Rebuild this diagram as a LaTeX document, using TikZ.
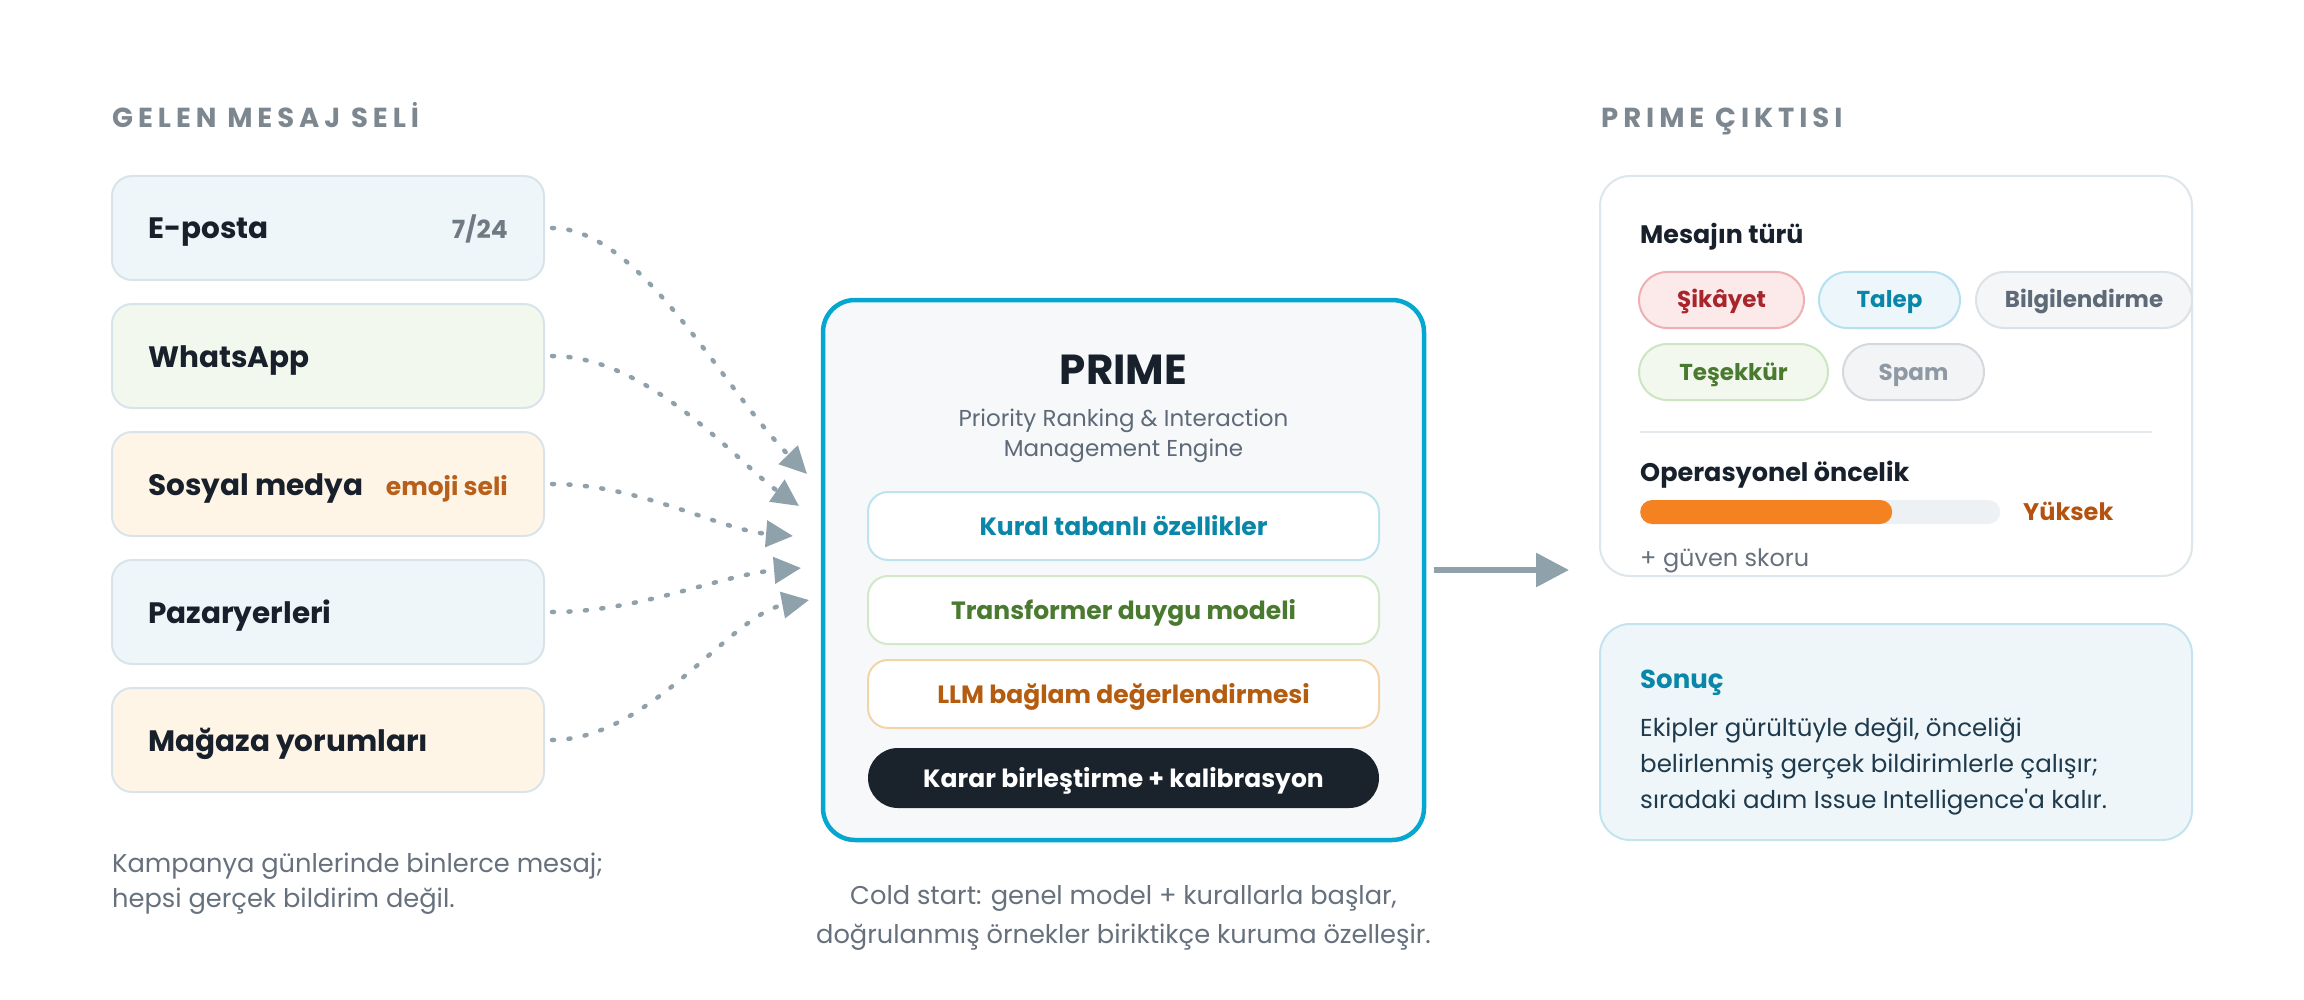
\documentclass[tikz,border=0pt]{standalone}
\usepackage{fontspec}
\setmainfont{Poppins}[Ligatures=TeXOff]
\usetikzlibrary{arrows.meta}
\definecolor{cDark}{HTML}{18212B}
\definecolor{cHead}{HTML}{7D8790}
\definecolor{cBorder}{HTML}{D9E4EA}
\definecolor{cBlueBg}{HTML}{EEF6F9}
\definecolor{cGreenBg}{HTML}{F2F8EE}
\definecolor{cOrangeBg}{HTML}{FFF5E6}
\definecolor{cGrayTxt}{HTML}{6F7A84}
\definecolor{cEmoji}{HTML}{B8601B}
\definecolor{cArrow}{HTML}{8FA1AB}
\definecolor{cPrime}{HTML}{05A6CF}
\definecolor{cPrimeBg}{HTML}{F6F8FA}
\definecolor{cSub}{HTML}{5E6A77}
\definecolor{cTeal}{HTML}{0A87A8}
\definecolor{cTealBd}{HTML}{BDE3EF}
\definecolor{cGreen}{HTML}{4A7A2F}
\definecolor{cGreenBd}{HTML}{D2E8C8}
\definecolor{cOrange}{HTML}{B45D10}
\definecolor{cOrangeBd}{HTML}{F3D4A8}
\definecolor{cBlack}{HTML}{1A222C}
\definecolor{cOutBd}{HTML}{DCE6EB}
\definecolor{cRedBg}{HTML}{FCE9EA}
\definecolor{cRedBd}{HTML}{EEB0B3}
\definecolor{cRed}{HTML}{A8262B}
\definecolor{cTalepBg}{HTML}{EDF6FA}
\definecolor{cTalepBd}{HTML}{B4E0EF}
\definecolor{cInfoBg}{HTML}{F4F6F8}
\definecolor{cInfoBd}{HTML}{DBE3E8}
\definecolor{cTesekBg}{HTML}{F2F8EE}
\definecolor{cTesekBd}{HTML}{CDE6C2}
\definecolor{cSpamBg}{HTML}{F2F4F6}
\definecolor{cSpamBd}{HTML}{D3D9DF}
\definecolor{cSpam}{HTML}{8E99A4}
\definecolor{cSep}{HTML}{E3E9ED}
\definecolor{cBarBg}{HTML}{EDF1F4}
\definecolor{cBar}{HTML}{F58220}
\definecolor{cHigh}{HTML}{B4530F}
\definecolor{cResBg}{HTML}{EEF6FA}
\definecolor{cResBd}{HTML}{C3E3EE}
\definecolor{cResTxt}{HTML}{1E3A4C}
\definecolor{cNote}{HTML}{66717D}
\tikzset{
  srcbox/.style={draw=cBorder, line width=2pt, rounded corners=20pt, inner sep=0pt,
    minimum width=432pt, minimum height=104pt},
  lbl/.style={inner sep=0pt, anchor=base west},
  lblr/.style={inner sep=0pt, anchor=base east},
  lblc/.style={inner sep=0pt, anchor=base},
  srcfont/.style={font=\fontsize{29.5}{36}\selectfont\bfseries, text=cDark},
  tagfont/.style={font=\fontsize{25}{30}\selectfont\bfseries},
  headfont/.style={font=\fontsize{27.5}{32}\selectfont\bfseries\addfontfeature{LetterSpace=18}, text=cHead},
  notefont/.style={font=\fontsize{25.7}{30}\selectfont, text=cNote},
  flow/.style={draw=cArrow, line width=4.5pt, line cap=round, dash pattern=on 2pt off 14.5pt,
    -{Triangle[length=27pt,width=26pt]}},
  layer/.style={draw=#1, fill=white, line width=2pt, rounded corners=20pt, inner sep=0pt,
    minimum width=511pt, minimum height=68pt},
  layerfont/.style={font=\fontsize{25}{30}\selectfont\bfseries},
  chip/.style={line width=2pt, rounded corners=28pt, inner sep=0pt, minimum height=56pt},
  chipfont/.style={font=\fontsize{23}{28}\selectfont\bfseries},
  bodyfont/.style={font=\fontsize{24.5}{30}\selectfont, text=cResTxt},
}
\begin{document}
\begin{tikzpicture}[x=1pt,y=-1pt]
\useasboundingbox (0,0) rectangle (2304,1000);
\fill[white] (0,0) rectangle (2304,1000);

% ---------- left column ----------
\node[lbl, headfont] (hin) at (112,128) {GELEN MESAJ SELİ};

\node[srcbox, fill=cBlueBg]   (s1) at (328,228) {};
\node[srcbox, fill=cGreenBg]  (s2) at (328,356) {};
\node[srcbox, fill=cOrangeBg] (s3) at (328,484) {};
\node[srcbox, fill=cBlueBg]   (s4) at (328,612) {};
\node[srcbox, fill=cOrangeBg] (s5) at (328,740) {};

\node[lbl, srcfont] (s1t) at (148,239) {E-posta};
\node[lblr, tagfont, text=cGrayTxt] (s1r) at (508,239) {7/24};
\node[lbl, srcfont] (s2t) at (148,367) {WhatsApp};
\node[lbl, srcfont] (s3t) at (148,495) {Sosyal medya};
\node[lblr, tagfont, text=cEmoji] (s3r) at (508,495) {emoji seli};
\node[lbl, srcfont] (s4t) at (148,623) {Pazaryerleri};
\node[lbl, srcfont] (s5t) at (148,751) {Mağaza yorumları};

\node[lbl, notefont] (n1a) at (112,872) {Kampanya günlerinde binlerce mesaj;};
\node[lbl, notefont] (n1b) at (112,907) {hepsi gerçek bildirim değil.};

% ---------- PRIME ----------
\node[draw=cPrime, fill=cPrimeBg, line width=4.5pt, rounded corners=32pt, inner sep=0pt,
      minimum width=601pt, minimum height=540pt] (prime) at (1123.5,570) {};
\node[lblc, font=\fontsize{42}{50}\selectfont\bfseries, text=cDark] (ptitle) at (1123.5,384) {PRIME};
\node[lblc, font=\fontsize{23}{28}\selectfont, text=cSub] (psub1) at (1123.5,426) {Priority Ranking \& Interaction};
\node[lblc, font=\fontsize{23}{28}\selectfont, text=cSub] (psub2) at (1123.5,456) {Management Engine};

\node[layer=cTealBd]  (l1) at (1123.5,526) {};
\node[layer=cGreenBd] (l2) at (1123.5,610) {};
\node[layer=cOrangeBd](l3) at (1123.5,694) {};
\node[fill=cBlack, rounded corners=30pt, inner sep=0pt, minimum width=511pt, minimum height=60pt] (l4) at (1123.5,778) {};
\node[lblc, layerfont, text=cTeal]   (l1t) at (1123.5,535) {Kural tabanlı özellikler};
\node[lblc, layerfont, text=cGreen]  (l2t) at (1123.5,619) {Transformer duygu modeli};
\node[lblc, layerfont, text=cOrange] (l3t) at (1123.5,703) {LLM bağlam değerlendirmesi};
\node[lblc, layerfont, text=white]   (l4t) at (1123.5,787) {Karar birleştirme + kalibrasyon};

\node[lblc, notefont] (n2a) at (1123.5,904) {Cold start: genel model + kurallarla başlar,};
\node[lblc, notefont] (n2b) at (1123.5,943) {doğrulanmış örnekler biriktikçe kuruma özelleşir.};

% ---------- flows ----------
\coordinate (t1) at (807,474);
\coordinate (t2) at (799,506);
\coordinate (t3) at (793,536);
\coordinate (t4) at (801,568);
\coordinate (t5) at (809,600);
\draw[flow, shorten <=7pt] (s1.east) .. controls (640,228) and (720,385) .. (t1);
\draw[flow, shorten <=7pt] (s2.east) .. controls (650,356) and (740,465) .. (t2);
\draw[flow, shorten <=7pt] (s3.east) .. controls (640,484) and (720,530) .. (t3);
\draw[flow, shorten <=7pt] (s4.east) .. controls (640,612) and (720,575) .. (t4);
\draw[flow, shorten <=7pt] (s5.east) .. controls (650,740) and (730,615) .. (t5);

% ---------- output ----------
\node[lbl, headfont] (hout) at (1601,128) {PRIME ÇIKTISI};
\node[draw=cOutBd, fill=white, line width=2pt, rounded corners=30pt, inner sep=0pt,
      minimum width=592pt, minimum height=400pt] (out1) at (1896,376) {};
\draw[cArrow, line width=6pt, -{Triangle[length=33pt,width=33pt]}]
  ([xshift=8pt]prime.east) -- ([xshift=-30pt]prime.east -| out1.west);

\node[lbl, font=\fontsize{25.3}{30}\selectfont\bfseries, text=cDark] (mt) at (1640,244) {Mesajın türü};
\node[chip, draw=cRedBd, fill=cRedBg, minimum width=165pt] (c1) at (1721.5,300) {};
\node[chip, draw=cTalepBd, fill=cTalepBg, minimum width=141pt] (c2) at (1889.5,300) {};
\node[chip, draw=cInfoBd, fill=cInfoBg, minimum width=216pt] (c3) at (2084,300) {};
\node[chip, draw=cTesekBd, fill=cTesekBg, minimum width=189pt] (c4) at (1733.5,372) {};
\node[chip, draw=cSpamBd, fill=cSpamBg, minimum width=141pt] (c5) at (1913.5,372) {};
\node[lblc, chipfont, text=cRed]   (c1t) at (1721.5,308) {Şikâyet};
\node[lblc, chipfont, text=cTeal]  (c2t) at (1889.5,308) {Talep};
\node[lblc, chipfont, text=cSub]   (c3t) at (2084,308) {Bilgilendirme};
\node[lblc, chipfont, text=cGreen] (c4t) at (1733.5,380) {Teşekkür};
\node[lblc, chipfont, text=cSpam]  (c5t) at (1913.5,380) {Spam};

\draw[cSep, line width=2pt] (1640,432) -- (2152,432);
\node[lbl, font=\fontsize{25.5}{30}\selectfont\bfseries, text=cDark] (ot) at (1640,481) {Operasyonel öncelik};
\node[fill=cBarBg, rounded corners=12pt, inner sep=0pt, minimum width=360pt, minimum height=24pt, anchor=west] (bar) at (1640,512) {};
\node[fill=cBar, rounded corners=12pt, inner sep=0pt, minimum width=252pt, minimum height=24pt, anchor=west] (barf) at (1640,512) {};
\node[lbl, font=\fontsize{24}{28}\selectfont\bfseries, text=cHigh] (yk) at (2023,520) {Yüksek};
\node[lbl, font=\fontsize{24}{28}\selectfont, text=cNote] (gs) at (1640,566) {+ güven skoru};

\node[draw=cResBd, fill=cResBg, line width=2pt, rounded corners=30pt, inner sep=0pt,
      minimum width=592pt, minimum height=216pt] (out2) at (1896,732) {};
\node[lbl, font=\fontsize{26}{30}\selectfont\bfseries, text=cTeal] (rt) at (1640,688) {Sonuç};
\node[lbl, bodyfont] (r1) at (1640,736) {Ekipler gürültüyle değil, önceliği};
\node[lbl, bodyfont] (r2) at (1640,772) {belirlenmiş gerçek bildirimlerle çalışır;};
\node[lbl, bodyfont] (r3) at (1640,808) {sıradaki adım Issue Intelligence'a kalır.};
\end{tikzpicture}
\end{document}
